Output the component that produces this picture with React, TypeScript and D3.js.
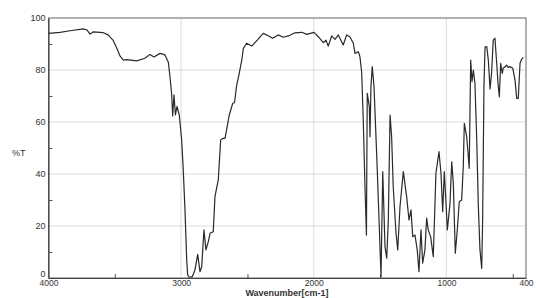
import React, { useEffect, useRef } from "react";
import * as d3 from "d3";

// spectrum: wavenumber (cm-1) and %T
const wavenumbers = [
  4000, 3913, 3838, 3738, 3710, 3687, 3662, 3589, 3551, 3514, 3484, 3461, 3436, 3408, 3335, 3273,
  3235, 3205, 3159, 3122, 3097, 3084, 3071, 3064, 3054, 3043, 3031, 3014, 2996, 2984, 2971, 2958,
  2951, 2939, 2916, 2896, 2875, 2858, 2845, 2828, 2813, 2795, 2782, 2758, 2745, 2720, 2702, 2687,
  2669, 2637, 2611, 2598, 2581, 2562, 2543, 2531, 2506, 2468, 2426, 2381, 2343, 2310, 2268, 2230,
  2192, 2142, 2091, 2053, 1998, 1966, 1928, 1908, 1891, 1865, 1840, 1815, 1778, 1752, 1727, 1702,
  1689, 1664, 1652, 1639, 1627, 1614, 1603, 1597, 1581, 1576, 1569, 1559, 1546, 1526, 1506, 1493,
  1480, 1463, 1450, 1438, 1425, 1413, 1401, 1380, 1367, 1350, 1325, 1300, 1282, 1267, 1254, 1237,
  1220, 1207, 1192, 1179, 1162, 1149, 1137, 1119, 1099, 1079, 1056, 1041, 1028, 1016, 1003, 993,
  973, 960, 948, 933, 918, 903, 885, 873, 865, 847, 828, 817, 807, 797, 785, 772,
  760, 747, 734, 727, 717, 709, 696, 684, 671, 659, 647, 634, 621, 609, 601, 591,
  579, 571, 558, 546, 534, 521, 500, 483, 470, 458, 445, 433, 420,
];
const transmittance = [
  94.1, 94.5, 95.1, 95.8, 95.4, 93.8, 94.7, 94.4, 93.5, 91.5, 88.3, 85.4, 83.8, 84.0, 83.5, 84.5,
  86.0, 85.0, 86.4, 85.8, 83.1, 77.4, 70.4, 62.3, 70.4, 62.7, 66.0, 62.7, 53.1, 41.5, 26.2, 6.9,
  1.2, 0.3, 0.5, 3.1, 9.1, 2.4, 4.3, 18.5, 10.8, 14.0, 17.2, 17.8, 31.3, 37.7, 53.1, 53.7,
  53.7, 62.7, 67.2, 67.4, 74.2, 78.7, 83.8, 88.3, 90.3, 89.2, 91.5, 94.1, 93.2, 92.2, 93.5, 92.6,
  93.1, 94.3, 94.5, 93.7, 94.5, 92.8, 90.5, 91.5, 89.2, 93.1, 91.8, 93.5, 89.6, 93.5, 92.7, 90.3,
  86.4, 87.0, 85.1, 79.2, 60.8, 35.1, 16.5, 71.0, 65.9, 54.3, 73.6, 81.3, 73.6, 48.0, 19.7, 0.5,
  40.9, 12.0, 7.6, 22.3, 62.7, 54.3, 35.1, 17.2, 10.8, 27.4, 40.9, 31.3, 22.3, 26.2, 15.9, 16.5,
  10.8, 2.4, 18.5, 5.7, 10.8, 23.0, 18.5, 15.9, 8.2, 40.3, 48.6, 40.3, 25.5, 40.9, 28.7, 18.5,
  28.7, 44.7, 36.4, 9.5, 18.5, 29.3, 30.0, 42.8, 59.5, 54.3, 42.2, 83.8, 75.5, 80.0, 74.9, 54.3,
  28.7, 10.8, 3.7, 22.3, 73.6, 88.8, 89.0, 83.8, 72.7, 79.3, 91.5, 92.2, 82.6, 73.6, 69.7, 82.6,
  78.7, 80.8, 81.2, 81.9, 81.0, 81.3, 80.7, 76.2, 69.1, 69.1, 82.6, 84.1, 84.9,
];

const xMajor = [4000, 3000, 2000, 1000, 400];
const xGrid = [3000, 2000, 1000];
const xMinor = [3500, 2500, 1500, 500];
const yMajor = [0, 20, 40, 60, 80, 100];
const yGrid = [20, 40, 60, 80];
const yMinor = [10, 30, 50, 70, 90];

const width = 536;
const height = 298;
const left = 48.5, right = 526, top = 18, bottom = 278;

const App = () => {
  const svgRef = useRef(null);

  useEffect(() => {
    const svg = d3.select(svgRef.current);
    svg.selectAll("*").remove();

    const xScale = d3.scaleLinear().domain([4000, 400]).range([left, right]);
    const yScale = d3.scaleLinear().domain([0, 100]).range([bottom, top]);

    // grid
    svg.append("g")
      .selectAll("line")
      .data(yGrid)
      .join("line")
      .attr("x1", left).attr("x2", right)
      .attr("y1", d => yScale(d)).attr("y2", d => yScale(d))
      .attr("stroke", "#d4d4d4").attr("stroke-width", 0.8);
    svg.append("g")
      .selectAll("line")
      .data(xGrid)
      .join("line")
      .attr("y1", top).attr("y2", bottom)
      .attr("x1", d => xScale(d)).attr("x2", d => xScale(d))
      .attr("stroke", "#d4d4d4").attr("stroke-width", 0.8);

    // frame
    svg.append("rect")
      .attr("x", left).attr("y", top)
      .attr("width", right - left).attr("height", bottom - top)
      .attr("fill", "none").attr("stroke", "#666").attr("stroke-width", 1);

    const font = "'Liberation Sans', Arial, sans-serif";

    // axes
    const yAxis = d3.axisLeft(yScale).tickValues(yMajor).tickSize(0).tickPadding(3).tickFormat(d3.format("d"));
    const yg = svg.append("g").attr("transform", `translate(${left},0)`).call(yAxis);
    yg.selectAll("text").style("font-size", "9px");
    // the 0 label sits a touch above the corner so it clears 4000
    yg.selectAll(".tick text").filter(d => d === 0).attr("dy", "-0.2em");
    const xAxis = d3.axisBottom(xScale).tickValues(xMajor).tickSize(0).tickPadding(2).tickFormat(d3.format("d"));
    const xg = svg.append("g").attr("transform", `translate(0,${bottom})`).call(xAxis);
    xg.selectAll("text").style("font-size", "8.5px");
    [yg, xg].forEach(g => {
      g.select(".domain").attr("stroke", "#444").attr("stroke-width", 1.2);
      g.selectAll("text").attr("fill", "#333").style("font-family", font);
    });

    svg.append("g").attr("transform", `translate(${left},0)`)
      .call(d3.axisRight(yScale).tickValues(yMinor).tickSize(4).tickFormat(() => ""))
      .call(g => g.select(".domain").remove())
      .selectAll("line").attr("stroke", "#555");
    svg.append("g").attr("transform", `translate(0,${bottom})`)
      .call(d3.axisTop(xScale).tickValues(xMinor).tickSize(4).tickFormat(() => ""))
      .call(g => g.select(".domain").remove())
      .selectAll("line").attr("stroke", "#555");

    // spectrum
    const line = d3.line<number>()
      .x((d, i) => xScale(wavenumbers[i]))
      .y(d => yScale(d));
    svg.append("path")
      .datum(transmittance)
      .attr("d", line)
      .attr("fill", "none")
      .attr("stroke", "#2a2a2a")
      .attr("stroke-width", 1.2)
      .attr("stroke-linejoin", "round");

    // labels
    svg.append("text")
      .attr("x", 12).attr("y", 156)
      .style("font-family", font).style("font-size", "9px")
      .attr("fill", "#333")
      .text("%T");
    svg.append("text")
      .attr("x", 287).attr("y", 296)
      .attr("text-anchor", "middle")
      .style("font-family", font).style("font-size", "9px").style("font-weight", "bold")
      .attr("fill", "#333")
      .text("Wavenumber[cm-1]");
  }, []);

  return (
    <svg ref={svgRef} width={width} height={height}
      style={{ position: "absolute", left: 0, top: 0, background: "#fff" }} />
  );
};

export default App;
